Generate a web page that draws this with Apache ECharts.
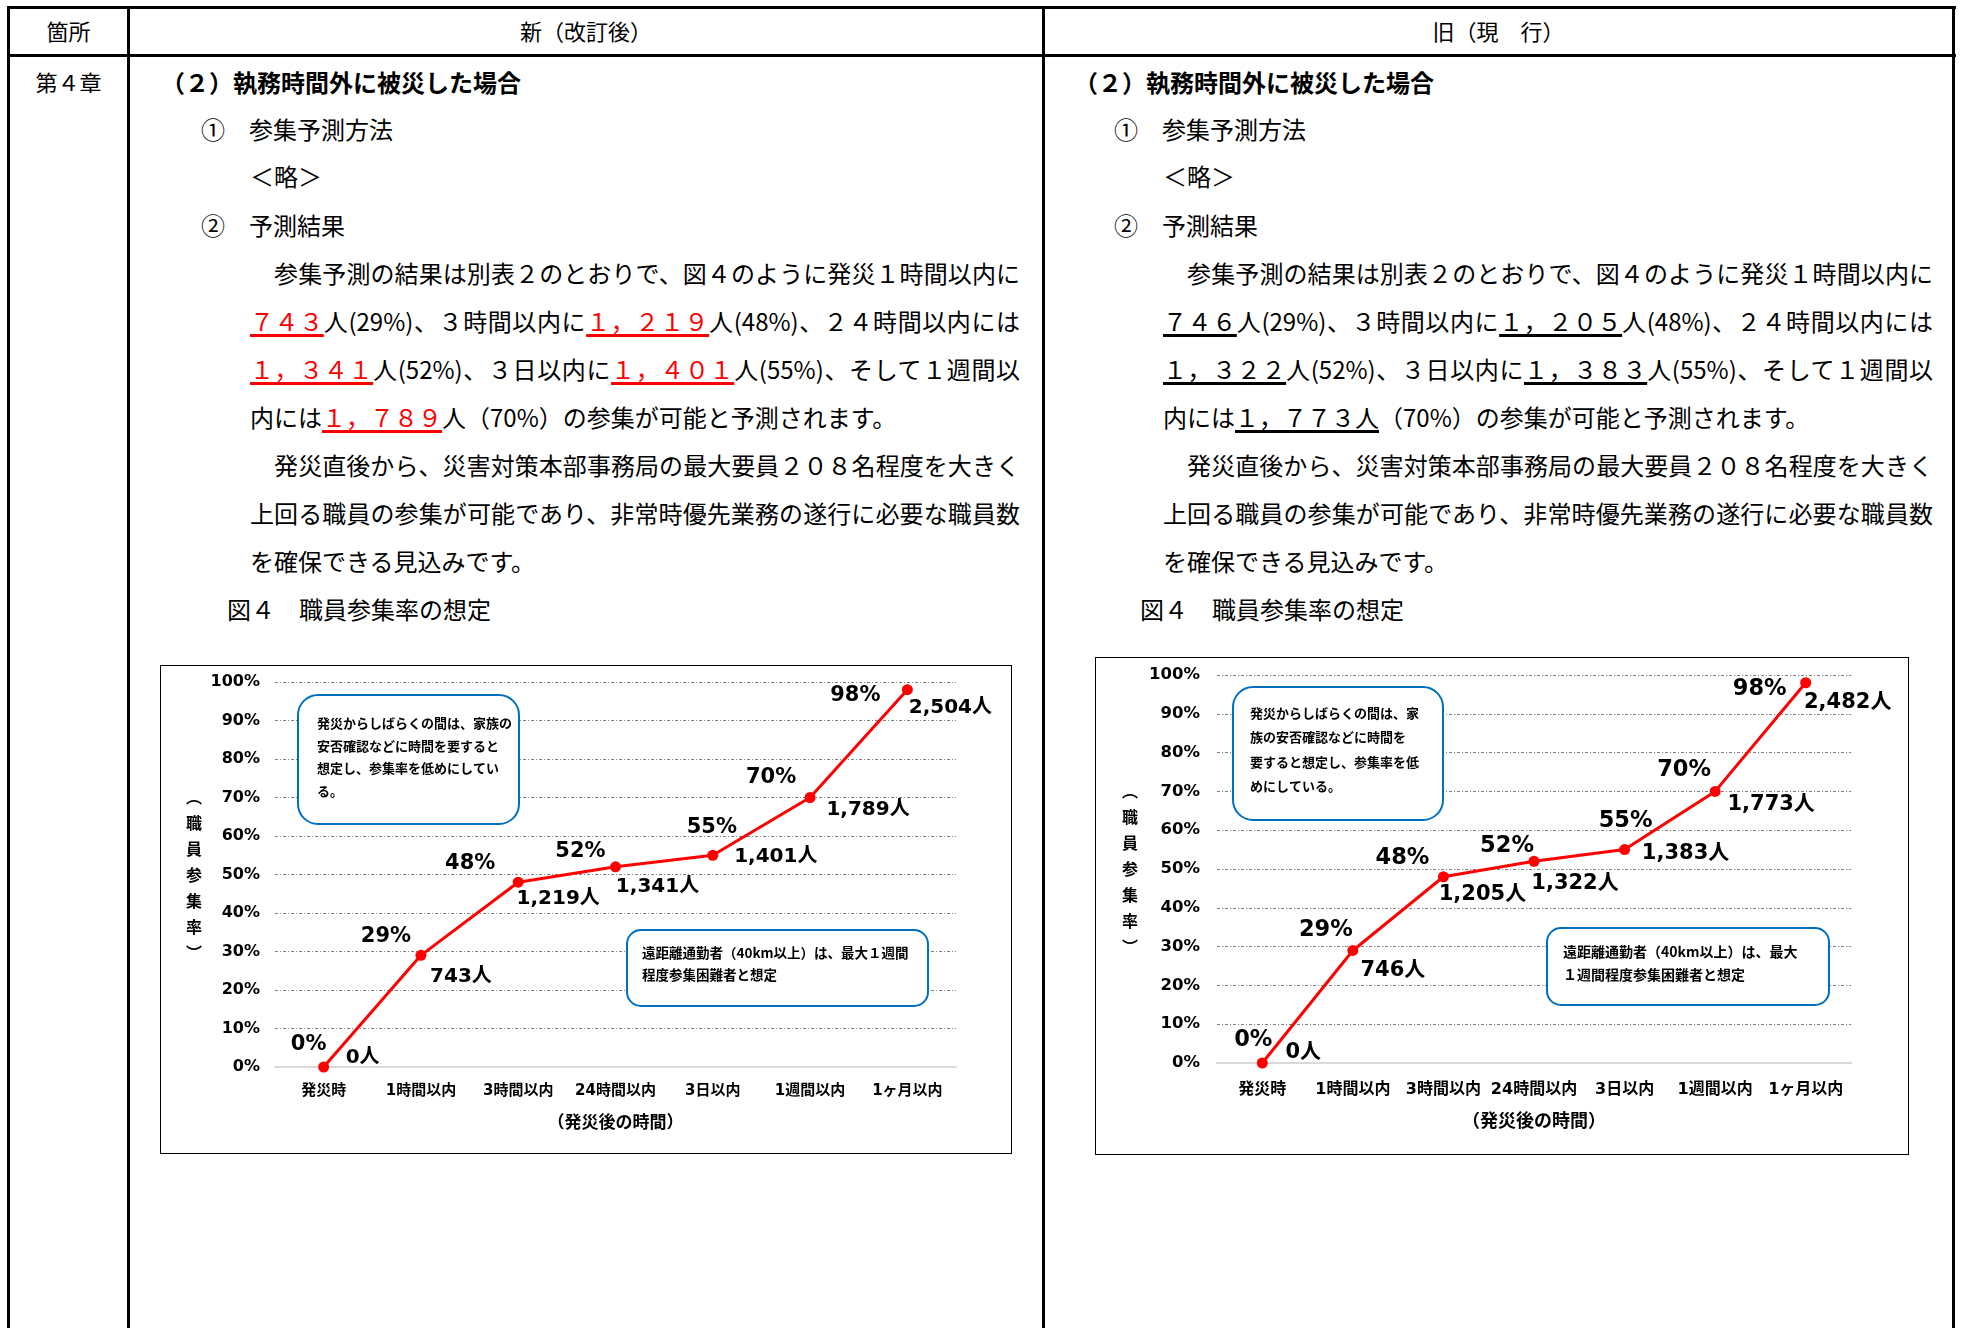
<!DOCTYPE html>
<html><head><meta charset="utf-8">
<script src="https://cdn.jsdelivr.net/npm/echarts@6/dist/echarts.min.js"></script>
<style>
html,body{margin:0;padding:0;background:#fff;width:1961px;height:1328px;overflow:hidden;}
body{position:relative;font-family:'Noto Sans CJK JP',sans-serif;color:#000;}
.ln{position:absolute;background:#000;}
.t{position:absolute;height:48px;line-height:48px;font-size:24px;white-space:nowrap;}
.j{width:770px;text-align:justify;text-align-last:justify;white-space:normal;}
.h{font-size:22px;text-align:center;}
.b{font-weight:bold;}
.r{color:#f00;text-decoration:underline;text-decoration-color:#f00;text-decoration-thickness:2.5px;text-underline-offset:3px;}
.u{text-decoration:underline;text-decoration-thickness:2.5px;text-underline-offset:3px;}
.frame{position:absolute;border:1.5px solid #000;box-sizing:border-box;pointer-events:none;}
.chart{position:absolute;}
</style></head>
<body>
<!-- table lines -->
<div class="ln" style="left:7px;top:6px;width:1949px;height:3px"></div>
<div class="ln" style="left:7px;top:54px;width:1949px;height:3px"></div>
<div class="ln" style="left:7px;top:6px;width:3px;height:1322px"></div>
<div class="ln" style="left:127px;top:6px;width:3px;height:1322px"></div>
<div class="ln" style="left:1042px;top:6px;width:3px;height:1322px"></div>
<div class="ln" style="left:1952px;top:6px;width:3px;height:1322px"></div>

<div class="t h" style="left:10px;width:117px;top:6px;">箇所</div>
<div class="t h" style="left:130px;width:912px;top:6px;">新（改訂後）</div>
<div class="t h" style="left:1045px;width:907px;top:6px;">旧（現　行）</div>
<div class="t h" style="left:10px;width:117px;top:57px;">第４章</div>

<div id="doc"></div>

<div class="chart" id="c1" style="left:160px;top:665px;width:852px;height:489px;"></div>
<div class="frame" style="left:160px;top:665px;width:852px;height:489px;"></div>
<div class="chart" id="c2" style="left:1095px;top:657px;width:814px;height:498px;"></div>
<div class="frame" style="left:1095px;top:657px;width:814px;height:498px;"></div>

<script>
// ---------- data ----------
const categories = ['発災時','1時間以内','3時間以内','24時間以内','3日以内','1週間以内','1ヶ月以内'];
const newRate  = [0, 29, 48, 52, 55, 70, 98];
const newCount = [0, 743, 1219, 1341, 1401, 1789, 2504];
const oldRate  = [0, 29, 48, 52, 55, 70, 98];
const oldCount = [0, 746, 1205, 1322, 1383, 1773, 2482];
const yMin = 0, yMax = 100, yStep = 10;
const xAxisName = '（発災後の時間）';
const yAxisName = '︵職員参集率︶';
const noteEarlyNew = ['発災からしばらくの間は、家族の','安否確認などに時間を要すると','想定し、参集率を低めにしてい','る。'];
const noteFarNew = ['遠距離通勤者（40km以上）は、最大１週間','程度参集困難者と想定'];
const noteEarlyOld = ['発災からしばらくの間は、家','族の安否確認などに時間を','要すると想定し、参集率を低','めにしている。'];
const noteFarOld = ['遠距離通勤者（40km以上）は、最大','１週間程度参集困難者と想定'];

// ---------- document text ----------
function fmtFull(n){ // full-width digits with full-width comma
  const s = n.toLocaleString('en-US');
  return s.replace(/[0-9]/g, d => String.fromCharCode(d.charCodeAt(0)+0xFEE0)).replace(/,/g,'，');
}
function docColumn(dx, counts, rates, cls, lastInclPerson){
  const n = i => `<span class="${cls}">${fmtFull(counts[i])}</span>`;
  const lines = [
    {l:161, t:58, c:'b', s:'（２）執務時間外に被災した場合'},
    {l:201, t:105, s:'①　参集予測方法'},
    {l:250, t:152, s:'＜略＞'},
    {l:201, t:201, s:'②　予測結果'},
    {l:250, t:249, c:'j', s:'　参集予測の結果は別表２のとおりで、図４のように発災１時間以内に'},
    {l:250, t:297, c:'j', s:`${n(1)}人(${rates[1]}%)、３時間以内に${n(2)}人(${rates[2]}%)、２４時間以内には`},
    {l:250, t:345, c:'j', s:`${n(3)}人(${rates[3]}%)、３日以内に${n(4)}人(${rates[4]}%)、そして１週間以`},
    {l:250, t:393, s: lastInclPerson
        ? `内には<span class="${cls}">${fmtFull(counts[5])}人</span>（${rates[5]}%）の参集が可能と予測されます。`
        : `内には${n(5)}人（${rates[5]}%）の参集が可能と予測されます。`},
    {l:250, t:441, c:'j', s:'　発災直後から、災害対策本部事務局の最大要員２０８名程度を大きく'},
    {l:250, t:489, c:'j', s:'上回る職員の参集が可能であり、非常時優先業務の遂行に必要な職員数'},
    {l:250, t:537, s:'を確保できる見込みです。'},
    {l:227, t:585, s:'図４　職員参集率の想定'}
  ];
  return lines.map(o => `<div class="t ${o.c||''}" style="left:${o.l+dx}px;top:${o.t}px">${o.s}</div>`).join('');
}
document.getElementById('doc').innerHTML =
  docColumn(0, newCount, newRate, 'r', false) + docColumn(913, oldCount, oldRate, 'u', true);

// ---------- charts ----------
const F = "'DejaVu Sans','Noto Sans CJK JP',sans-serif";
const FJ = "'Noto Sans CJK JP',sans-serif";
// label layout (offsets of label centres from the points, px)
const pctOffNew = [[-15,-22],[-35,-19],[-48,-19],[-35,-15],[-1,-28],[-39,-20],[-52,6]];
const cntOffNew = [[39,-9],[40,21],[40,17],[42,20],[63,2],[58,12],[43,18]];
const pctOffOld = [[-9,-23],[-27,-20],[-41,-19],[-27,-15],[1,-28],[-31,-21],[-46,6]];
const cntOffOld = [[41,-10],[40,20],[39,18],[41,22],[61,4],[56,13],[42,20]];

function build(rate, count, c){
  return {
    animation:false,
    grid:{left:c.gl, right:c.gr, top:c.gt, bottom:c.gb, containLabel:false, outerBoundsMode:'none'},
    xAxis:{
      type:'category', data:categories, boundaryGap:true,
      axisLine:{show:true, lineStyle:{color:'#d9d9d9', width:2}},
      axisTick:{show:false},
      axisLabel:{interval:0, color:'#000', fontSize:c.xf, fontWeight:'bold', fontFamily:F, margin:c.xm},
      splitLine:{show:false},
      name:xAxisName, nameLocation:'middle', nameGap:c.xng,
      nameTextStyle:{color:'#000', fontSize:c.nf, fontWeight:'bold', fontFamily:FJ}
    },
    yAxis:{
      type:'value', min:yMin, max:yMax, interval:yStep,
      axisLine:{show:false}, axisTick:{show:false},
      axisLabel:{formatter:'{value}%', color:'#000', fontSize:c.yf, fontWeight:'bold', fontFamily:F, margin:c.ym},
      splitLine:{show:true, showMinLine:false, lineStyle:{color:'#808080', width:1, type:[3,2,1,2]}},
      name:yAxisName.split('').join('\n'), nameLocation:'middle', nameRotate:0, nameGap:c.yng,
      nameTextStyle:{color:'#000', fontSize:c.ynf, fontWeight:'bold', fontFamily:FJ, lineHeight:26, align:'center'}
    },
    series:[
      {
        type:'line', data:rate.map((v,i)=>({value:v, label:{offset:c.po[i]}})),
        symbol:'circle', symbolSize:11, z:3,
        itemStyle:{color:'#ff0000'}, lineStyle:{color:'#ff0000', width:3},
        label:{show:true, position:'inside', formatter:'{c}%', color:'#000', fontSize:c.pf, fontWeight:'bold', fontFamily:F}
      },
      {
        type:'line', data:rate.map((v,i)=>({value:v, label:{offset:c.co[i]}})),
        symbol:'circle', symbolSize:1, z:4, silent:true,
        itemStyle:{color:'rgba(0,0,0,0)'}, lineStyle:{opacity:0, width:0},
        label:{show:true, position:'inside', color:'#000', fontSize:c.cf, fontWeight:'bold', fontFamily:F,
          formatter:p => count[p.dataIndex].toLocaleString('en-US') + '人'}
      }
    ],
    graphic:[
      {type:'rect', z:100, shape:{x:c.a[0], y:c.a[1], width:c.a[2], height:c.a[3], r:20},
        style:{fill:'#fff', stroke:'#0070C0', lineWidth:2}},
      {type:'text', z:101, x:c.at[0], y:c.at[1],
        style:{text:c.an.join('\n'), fill:'#000', fontSize:c.af, fontWeight:'bold', fontFamily:FJ, lineHeight:c.alh, verticalAlign:'top'}},
      {type:'rect', z:100, shape:{x:c.b[0], y:c.b[1], width:c.b[2], height:c.b[3], r:14},
        style:{fill:'#fff', stroke:'#0070C0', lineWidth:2}},
      {type:'text', z:101, x:c.bt[0], y:c.bt[1],
        style:{text:c.bn.join('\n'), fill:'#000', fontSize:c.bf, fontWeight:'bold', fontFamily:FJ, lineHeight:c.blh, verticalAlign:'top'}}
    ]
  };
}

const c1 = echarts.init(document.getElementById('c1'));
c1.setOption(build(newRate, newCount, {
  gl:115, gr:56, gt:17, gb:87, xf:15, xm:17, xng:46, nf:17, yf:16, ym:15, yng:81, ynf:16,
  pf:21, cf:20, po:pctOffNew, co:cntOffNew,
  a:[138,30,221,129], at:[157,47], an:noteEarlyNew, af:13, alh:22.5,
  b:[467,265,301,76], bt:[482,277], bn:noteFarNew, bf:13.5, blh:22
}));
const c2 = echarts.init(document.getElementById('c2'));
c2.setOption(build(oldRate, oldCount, {
  gl:122, gr:58, gt:18, gb:92, xf:16, xm:19, xng:48, nf:18, yf:16.5, ym:17, yng:87, ynf:16,
  pf:22.5, cf:21, po:pctOffOld, co:cntOffOld,
  a:[138,30,210,133], at:[155,44], an:noteEarlyOld, af:13, alh:24.3,
  b:[452,271,282,77], bt:[468,283.5], bn:noteFarOld, bf:14, blh:23
}));
</script>
</body></html>
